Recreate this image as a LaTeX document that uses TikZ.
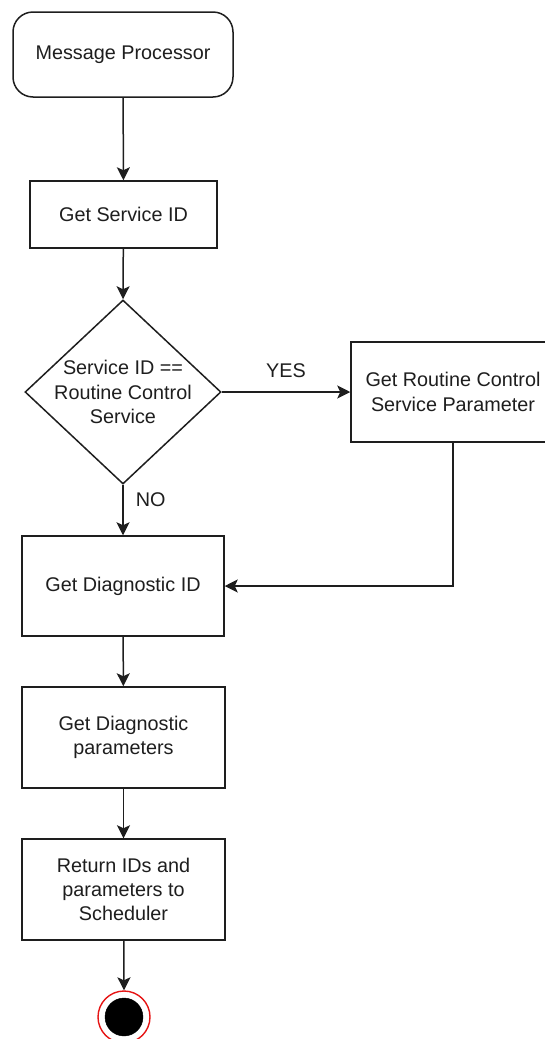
\documentclass[tikz,border=0pt]{standalone}
\usepackage{fontspec}
\setmainfont{Liberation Sans}
\usetikzlibrary{shapes.geometric,arrows.meta}
\definecolor{ink}{RGB}{30,30,30}
\definecolor{endred}{RGB}{230,20,20}
\tikzset{
  flow/.style={line width=1.5pt, draw=ink, -{Stealth[length=13pt,width=13pt,inset=3pt]}},
  box/.style={draw=ink, line width=1.5pt, fill=white, rectangle, inner sep=0pt, align=center,
              font=\fontsize{19.8}{24.3}\selectfont, text=ink},
  txt/.style={inner sep=0pt, align=center, font=\fontsize{19.8}{24.3}\selectfont, text=ink},
}
\begin{document}
\begin{tikzpicture}[x=1pt, y=-1pt]
  \useasboundingbox (0,0) rectangle (545,1039);
  \clip (0,0) rectangle (545,1039);

  % terminal start
  \node[box, rounded corners=20pt, minimum width=220pt, minimum height=85pt] (start) at (123,54.5) {Message Processor};
  \node[box, minimum width=187pt, minimum height=67pt] (sid) at (123.5,214.5) {Get Service ID};

  % decision
  \node[draw=ink, line width=1.5pt, diamond, inner sep=0pt, minimum width=196pt, minimum height=184pt] (dec) at (123,392) {};
  \node[txt] at (123,392) {Service ID ==\\Routine Control\\Service};

  \node[box, minimum width=204pt, minimum height=100pt] (rcp) at (453,392) {Get Routine Control\\Service Parameter};

  \node[box, minimum width=202pt, minimum height=100pt] (did) at (123,586) {Get Diagnostic ID};
  \node[box, minimum width=203pt, minimum height=101pt] (dpar) at (123.5,737.5) {Get Diagnostic\\parameters};
  \node[box, minimum width=203pt, minimum height=101pt] (ret) at (123.5,889.5) {Return IDs and\\parameters to\\Scheduler};

  % final state
  \node[circle, draw=endred, line width=1.4pt, fill=white, minimum size=52pt, inner sep=0pt] (fin) at (124,1017) {};
  \node[circle, draw=black, fill=black, minimum size=38pt, inner sep=0pt] at (fin.center) {};

  % connectors
  \draw[flow] (start) -- (sid);
  \draw[flow] (sid) -- (dec.north);
  \draw[flow] (dec.east) -- node[txt, above=14pt] {YES} (rcp.west);
  \draw[flow] (dec.south) -- node[txt, right=12pt, pos=0.3] {NO} (did.north);
  \draw[flow] (rcp.south) |- (did.east);
  \draw[flow] (did) -- (dpar);
  \draw[flow] (dpar) -- (ret);
  \draw[flow] (ret) -- (fin.north);
\end{tikzpicture}
\end{document}
